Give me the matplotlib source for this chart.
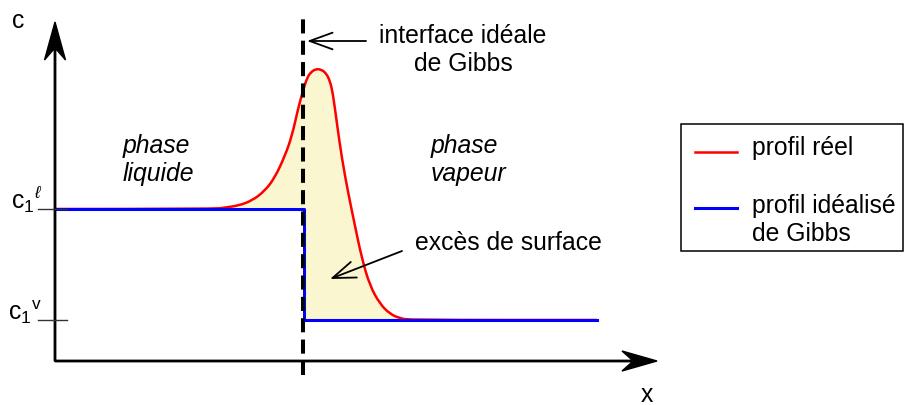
import numpy as np
import matplotlib
matplotlib.use("Agg")
import matplotlib.pyplot as plt
from matplotlib.patches import Rectangle, PathPatch
from matplotlib.path import Path

plt.rcParams['font.family'] = ['Liberation Sans', 'DejaVu Sans']
plt.rcParams['mathtext.fontset'] = 'custom'
plt.rcParams['mathtext.rm'] = 'Liberation Sans'
plt.rcParams['mathtext.it'] = 'Liberation Sans:italic'

# schematic units: x = distance from the c axis, c = concentration (same scale as the picture)
c_liq = 152
c_vap = 41
x_gibbs = 249
x_end = 542

x_real = [0, 160, 170, 183, 197, 210, 220, 230, 237, 243, 248, 252, 256, 261, 266,
          271, 275, 278, 282, 287, 293, 300, 307, 315, 325, 335, 345, 355, 542]
c_real = [152, 152, 153.5, 155.3, 160.3, 170.3, 183.7, 205.3, 225.3, 252, 270.3, 283, 289, 292, 291.5,
          288, 280, 267, 237, 202, 169, 135, 102, 75, 57, 47, 42.7, 41, 41]

# idealised Gibbs profile
x_ideal = [0, x_gibbs, x_gibbs, x_end]
c_ideal = [c_liq, c_liq, c_vap, c_vap]

FS = 17.8
FILL = '#faf7d0'


def smooth_path(xs, ys):
    # quadratic bezier through the midpoints, the read points act as control points
    pts = np.column_stack([xs, ys])
    verts = [pts[0]]
    codes = [Path.MOVETO]
    for i in range(1, len(pts) - 1):
        mid = (pts[i] + pts[i + 1]) / 2
        verts += [pts[i], mid]
        codes += [Path.CURVE3, Path.CURVE3]
    verts.append(pts[-1])
    codes.append(Path.LINETO)
    return verts, codes


fig = plt.figure(figsize=(9.07, 4.06), dpi=100)
ax = fig.add_axes([0, 0, 1, 1])
ax.set_xlim(-55, 852)
ax.set_ylim(-44, 362)
ax.axis('off')

# surface excess shading: between the real profile and the Gibbs step
v, c = smooth_path(x_real[1:-1], c_real[1:-1])
v += [(x_gibbs, c_vap), (x_gibbs, c_liq), (x_real[1], c_real[1])]
c += [Path.LINETO, Path.LINETO, Path.CLOSEPOLY]
ax.add_patch(PathPatch(Path(v, c), facecolor=FILL, edgecolor='none', zorder=1))

v, c = smooth_path(x_real, c_real)
ax.add_patch(PathPatch(Path(v, c), facecolor='none', edgecolor='#ff0000', lw=1.8,
                       zorder=2, joinstyle='round'))
ax.plot(x_ideal, c_ideal, color='#0000ff', lw=2.2, zorder=3)

# Gibbs dividing surface
ax.plot([x_gibbs - 1, x_gibbs - 1], [-14, 342], color='k', lw=2.9,
        linestyle=(0, (3.5, 1.8)), zorder=4)

# axes with arrows
ax.arrow(0, 0, 0, 339, width=1.4, head_width=21, head_length=38, overhang=0.3,
         length_includes_head=True, color='k', zorder=5)
ax.arrow(0, 0, 602, 0, width=1.4, head_width=20, head_length=35, overhang=0.3,
         length_includes_head=True, color='k', zorder=5)
ax.text(-37, 341, 'c', fontsize=FS, ha='center', va='center')
ax.text(592, -33, 'x', fontsize=FS, ha='center', va='center')

# ticks for c1 levels
for lvl in (c_liq, c_vap):
    ax.plot([-17, 12], [lvl, lvl], color='#333333', lw=1.0, zorder=5)
ax.text(-13, c_liq + 1, r'c$_1{}^{\ell}$', fontsize=FS, ha='right', va='baseline')
ax.text(-13, c_vap + 1, r'c$_1{}^{\mathrm{v}}$', fontsize=FS, ha='right', va='baseline')

# annotations
arrow_kw = dict(arrowstyle='->,head_length=1.1,head_width=0.4', lw=1.3,
                color='k', shrinkA=0, shrinkB=0, mutation_scale=15)
ax.annotate('', xy=(252, 320), xytext=(311, 320), arrowprops=arrow_kw)
ax.text(408, 312, 'interface idéale\nde Gibbs', fontsize=FS, ha='center', va='center',
        linespacing=1.22)
ax.annotate('', xy=(275, 82), xytext=(347, 110), arrowprops=arrow_kw)
ax.text(360, 119, 'excès de surface', fontsize=FS, ha='left', va='center')
ax.text(68, 202, 'phase\nliquide', fontsize=FS, style='italic', ha='left', va='center',
        linespacing=1.22)
ax.text(376, 202, 'phase\nvapeur', fontsize=FS, style='italic', ha='left', va='center',
        linespacing=1.22)

# legend box
ax.add_patch(Rectangle((626, 110), 222, 127, fill=False, edgecolor='k', lw=1.1, zorder=5))
ax.plot([640, 682], [209, 209], color='#ff0000', lw=1.8)
ax.plot([640, 682], [153, 153], color='#0000ff', lw=2.2)
ax.text(697, 214, 'profil réel', fontsize=FS, ha='left', va='center')
ax.text(697, 142, 'profil idéalisé\nde Gibbs', fontsize=FS, ha='left', va='center',
        linespacing=1.22)

fig.savefig('out.png', dpi=100)
